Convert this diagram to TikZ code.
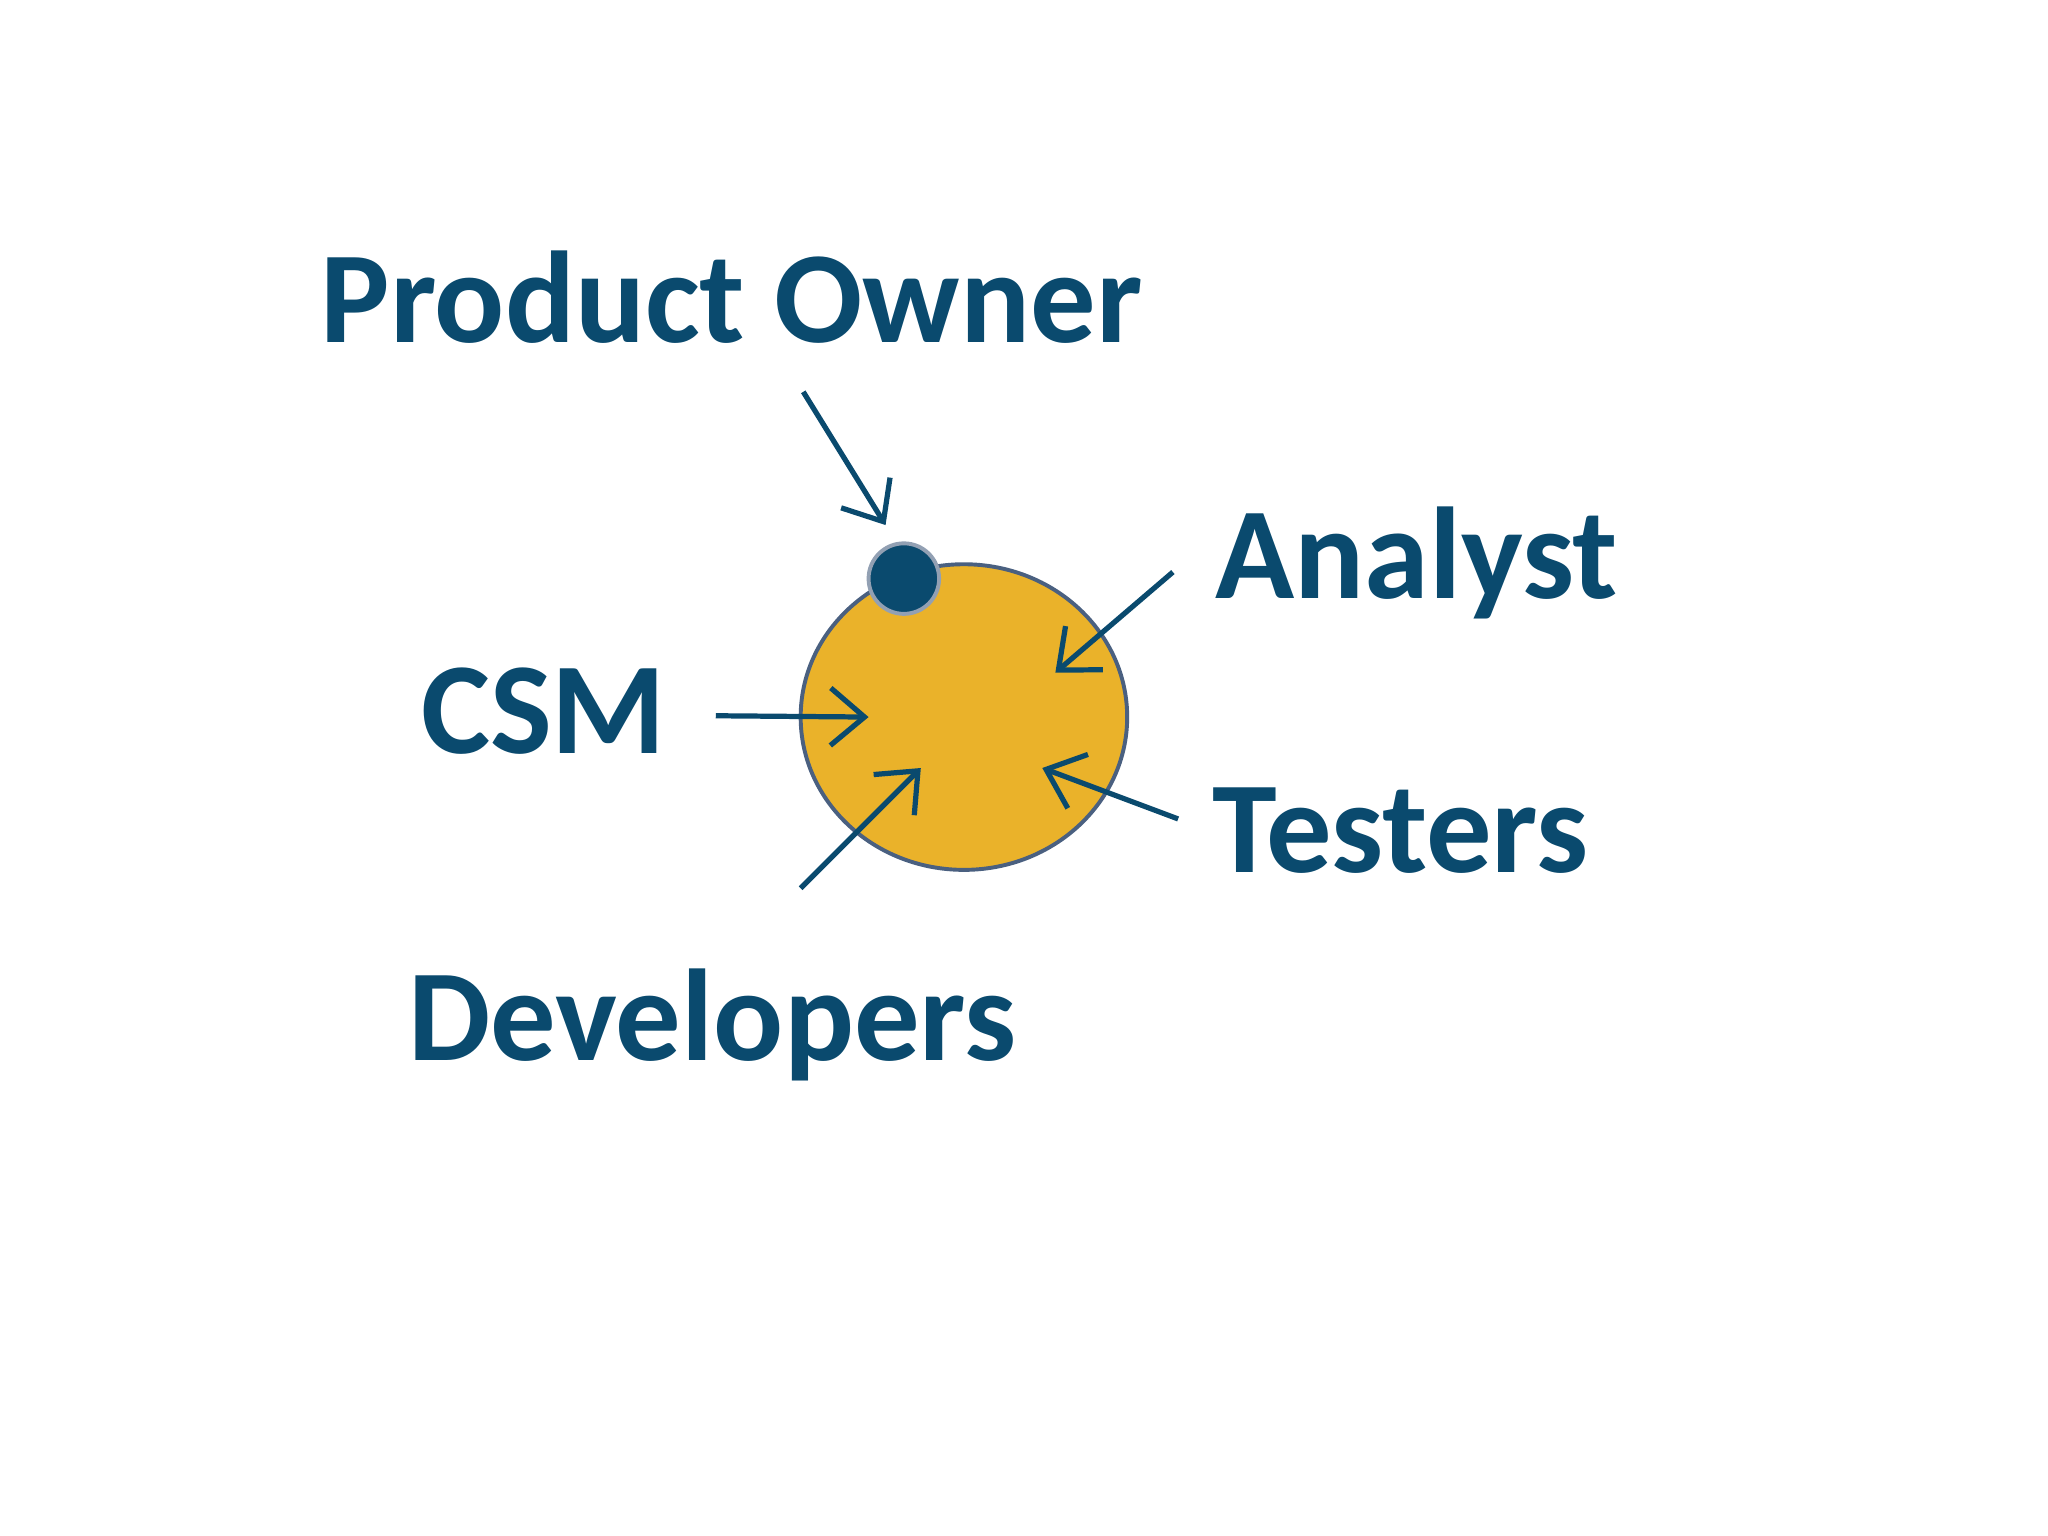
\documentclass[tikz,border=0pt]{standalone}
\usepackage{fontspec}
\setmainfont{Carlito}
\usetikzlibrary{arrows.meta,shapes.geometric}
\definecolor{navy}{HTML}{0A4A6E}
\definecolor{gold}{HTML}{EAB22A}
\definecolor{rim}{HTML}{4A6080}
\tikzset{lbl/.style={anchor=base west,inner sep=0pt,text=navy,font=\fontsize{50}{60}\selectfont\bfseries},
 arr/.style={draw=navy,line width=2pt,-{Straight Barb[length=13pt,width=22pt,line width=2pt]}}}
\begin{document}
\begin{tikzpicture}[x=0.5pt,y=-0.5pt]
\useasboundingbox (0,0) rectangle (1568,1176);
\node[draw=rim,line width=1.5pt,fill=gold,ellipse,inner sep=0pt,minimum width=125pt,minimum height=117pt] (c) at (738,549) {};
\node[draw=rim!60,line width=1.5pt,fill=navy,circle,minimum size=27pt,inner sep=0pt] (po) at (692,443) {};
\node[lbl] (tpo) at (245,262) {Product Owner};
\node[lbl] (tcsm) at (322,577) {CSM};
\node[lbl] (tan) at (930,458) {Analyst};
\node[lbl] (tte) at (928,668) {Testers};
\node[lbl] (tde) at (312,812) {Developers};
\coordinate (a1) at (615,300); \coordinate (b1) at (678,402);
\coordinate (a2) at (898,438); \coordinate (b2) at (808,515);
\coordinate (a3) at (548,548); \coordinate (b3) at (665,549);
\coordinate (a4) at (902,627); \coordinate (b4) at (798,588);
\coordinate (a5) at (613,680); \coordinate (b5) at (705,588);
\foreach \i in {1,...,5} \draw[arr] (a\i) -- (b\i);
\end{tikzpicture}
\end{document}
